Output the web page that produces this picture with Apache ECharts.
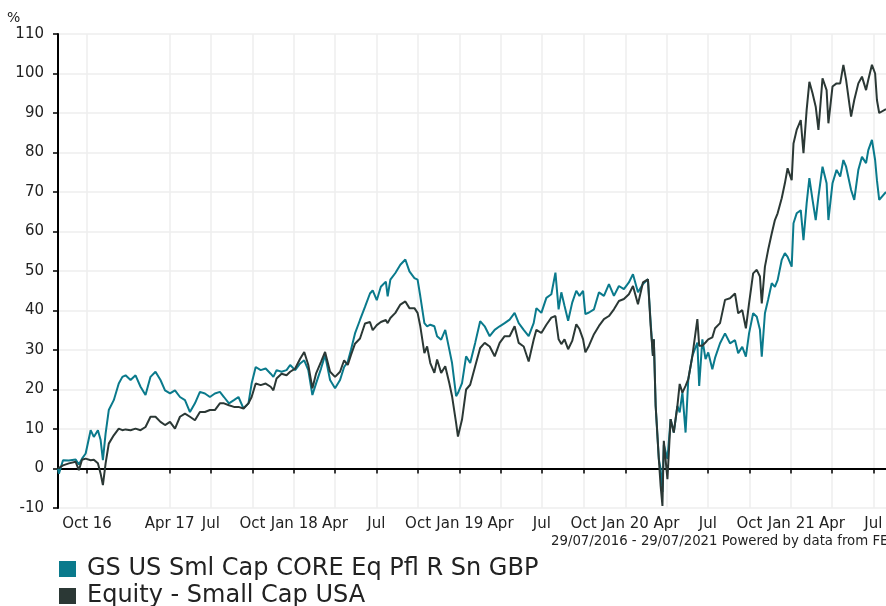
<!DOCTYPE html>
<html>
<head>
<meta charset="utf-8">
<script src="https://cdn.jsdelivr.net/npm/echarts@6/dist/echarts.min.js"></script>
<style>
  html, body { margin: 0; padding: 0; background: #fff; }
  #chart { width: 886px; height: 606px; }
</style>
</head>
<body>
<div id="chart"></div>
<script>
const dates = [
  '2016-07-29','2016-07-31','2016-08-09','2016-08-22','2016-09-06','2016-09-13','2016-09-20','2016-09-28',
  '2016-10-09','2016-10-16','2016-10-25','2016-10-31','2016-11-05','2016-11-11','2016-11-18','2016-11-29',
  '2016-12-10','2016-12-18','2016-12-25','2017-01-05','2017-01-16','2017-01-27','2017-02-07','2017-02-18',
  '2017-03-01','2017-03-12','2017-03-22','2017-04-02','2017-04-13','2017-04-24','2017-05-05','2017-05-16',
  '2017-05-27','2017-06-07','2017-06-18','2017-06-29','2017-07-10','2017-07-21','2017-07-30','2017-08-10',
  '2017-08-21','2017-08-31','2017-09-11','2017-09-22','2017-09-29','2017-10-08','2017-10-19','2017-10-30',
  '2017-11-10','2017-11-16','2017-11-23','2017-12-04','2017-12-15','2017-12-23','2018-01-03','2018-01-14',
  '2018-01-23','2018-02-01','2018-02-10','2018-02-18','2018-03-01','2018-03-10','2018-03-21','2018-04-01',
  '2018-04-12','2018-04-21','2018-04-29','2018-05-06','2018-05-15','2018-05-26','2018-06-06','2018-06-17',
  '2018-06-23','2018-07-02','2018-07-11','2018-07-22','2018-07-26','2018-08-01','2018-08-12','2018-08-23',
  '2018-09-03','2018-09-12','2018-09-23','2018-09-30','2018-10-06','2018-10-15','2018-10-21','2018-10-28',
  '2018-11-06','2018-11-12','2018-11-21','2018-11-30','2018-12-09','2018-12-15','2018-12-24','2018-12-28',
  '2019-01-06','2019-01-15','2019-01-24','2019-02-04','2019-02-15','2019-02-25','2019-03-08','2019-03-19',
  '2019-03-30','2019-04-10','2019-04-21','2019-05-02','2019-05-11','2019-05-22','2019-06-02','2019-06-13',
  '2019-06-19','2019-06-30','2019-07-11','2019-07-22','2019-07-31','2019-08-07','2019-08-13','2019-08-20',
  '2019-08-28','2019-09-06','2019-09-15','2019-09-22','2019-09-30','2019-10-05','2019-10-13','2019-10-24',
  '2019-11-04','2019-11-15','2019-11-26','2019-12-07','2019-12-18','2019-12-29','2020-01-09','2020-01-18',
  '2020-01-29','2020-02-09','2020-02-20','2020-02-26','2020-03-02','2020-03-04','2020-03-08','2020-03-15',
  '2020-03-19','2020-03-23','2020-03-26','2020-04-03','2020-04-10','2020-04-17','2020-04-25','2020-04-30',
  '2020-05-06','2020-05-13','2020-05-19','2020-05-28','2020-06-08','2020-06-12','2020-06-19','2020-06-26',
  '2020-07-02','2020-07-11','2020-07-17','2020-07-28','2020-08-08','2020-08-19','2020-08-30','2020-09-06',
  '2020-09-15','2020-09-23','2020-09-30','2020-10-09','2020-10-17','2020-10-24','2020-10-28','2020-11-04',
  '2020-11-11','2020-11-19','2020-11-26','2020-12-02','2020-12-11','2020-12-18','2020-12-24','2021-01-02',
  '2021-01-06','2021-01-13','2021-01-22','2021-01-28','2021-02-04','2021-02-10','2021-02-17','2021-02-24',
  '2021-03-02','2021-03-11','2021-03-20','2021-03-24','2021-04-02','2021-04-11','2021-04-19','2021-04-26',
  '2021-05-02','2021-05-13','2021-05-20','2021-05-29','2021-06-06','2021-06-15','2021-06-20','2021-06-28',
  '2021-07-05','2021-07-09','2021-07-14','2021-07-29'
];

// GS US Sml Cap CORE Eq Pfl R Sn GBP, cumulative % growth
const fundValues = [
  0, -1.3, 2.1, 2.0, 2.3, 1.0, 2.5, 3.8,
  9.7, 8.0, 9.7, 7.2, 2.1, 8.9, 14.8, 17.3,
  21.5, 23.2, 23.6, 22.4, 23.6, 20.7, 18.6, 23.2,
  24.5, 22.4, 19.8, 19.0, 19.8, 18.1, 17.3, 14.3,
  16.5, 19.4, 19.0, 18.1, 19.0, 19.4, 18.1, 16.5,
  17.3, 18.1, 15.2, 16.5, 21.5, 25.7, 24.9, 25.3,
  24.0, 23.2, 24.9, 24.5, 24.9, 26.2, 24.9, 26.6,
  27.4, 24.9, 18.6, 21.5, 25.3, 28.7, 22.4, 20.3,
  22.4, 25.7, 27.0, 30.0, 34.2, 37.6, 40.9, 44.3,
  45.1, 42.6, 46.0, 47.3, 43.6, 47.8, 49.5, 51.6,
  52.9, 49.9, 48.2, 47.8, 43.6, 36.8, 36.0, 36.4,
  36.0, 33.5, 32.6, 35.1, 30.1, 26.7, 18.3, 19.1,
  21.6, 28.4, 26.7, 31.8, 37.3, 36.0, 33.5, 35.1,
  36.0, 36.8, 37.7, 39.4, 36.8, 35.1, 33.5, 36.8,
  40.6, 39.4, 43.2, 44.1, 49.6, 40.3, 44.6, 41.2,
  37.4, 42.0, 45.0, 43.7, 45.0, 39.1, 39.5, 40.3,
  44.6, 43.7, 46.7, 43.7, 46.2, 45.4, 47.1, 49.2,
  44.6, 46.7, 47.9, 37.0, 28.5, 32.7, 15.9, 2.4,
  -0.2, -6.0, 6.0, 2.4, 12.5, 9.1, 15.9, 14.2,
  19.2, 9.1, 22.6, 28.5, 31.9, 20.9, 32.7, 27.7,
  29.4, 25.1, 28.0, 31.7, 34.2, 31.7, 32.5, 29.2,
  30.8, 28.3, 34.2, 39.3, 38.4, 35.1, 28.3, 39.3,
  42.7, 46.9, 46.0, 47.7, 52.8, 54.5, 53.6, 51.1,
  62.1, 64.6, 65.4, 57.8, 67.1, 73.5, 68.0, 62.9,
  68.8, 76.4, 72.2, 62.9, 72.2, 75.6, 73.9, 78.1,
  76.4, 70.5, 68.0, 75.6, 78.9, 77.3, 80.6, 83.2,
  78.1, 73.0, 68.0, 70.0
];

// Equity - Small Cap USA, cumulative % growth
const sectorValues = [
  0, -0.5, 0.8, 1.3, 1.7, -0.4, 2.2, 2.5,
  2.1, 2.2, 1.3, -1.3, -4.2, 1.3, 6.3, 8.4,
  10.1, 9.7, 9.9, 9.7, 10.1, 9.7, 10.5, 13.1,
  13.1, 11.8, 11.0, 11.8, 10.1, 13.1, 13.9, 13.1,
  12.2, 14.3, 14.3, 14.8, 14.8, 16.5, 16.5, 16.0,
  15.6, 15.6, 15.2, 16.5, 18.1, 21.5, 21.1, 21.5,
  20.7, 19.8, 22.8, 24.0, 23.6, 24.5, 25.3, 27.8,
  29.5, 26.2, 20.3, 24.0, 27.0, 29.5, 24.5, 23.2,
  24.5, 27.4, 26.2, 28.7, 31.6, 32.9, 36.7, 37.1,
  35.0, 36.3, 37.1, 37.6, 36.8, 38.1, 39.4, 41.5,
  42.3, 40.6, 40.6, 39.4, 36.0, 29.2, 30.9, 26.7,
  24.2, 27.6, 24.2, 25.9, 21.6, 18.3, 11.5, 8.1,
  12.4, 20.0, 21.2, 25.9, 30.5, 31.8, 30.9, 28.4,
  31.8, 33.5, 33.5, 36.0, 31.8, 30.9, 27.1, 32.6,
  35.1, 34.3, 36.4, 38.2, 38.6, 32.7, 31.5, 32.7,
  30.2, 32.3, 36.5, 35.3, 32.7, 29.4, 31.1, 34.0,
  36.1, 37.8, 38.6, 40.3, 42.4, 42.9, 44.1, 46.2,
  41.6, 47.1, 47.9, 36.1, 28.5, 32.7, 15.9, 2.4,
  -4.4, -9.5, 7.0, -2.7, 12.5, 9.1, 15.9, 21.4,
  19.2, 20.9, 22.6, 28.5, 37.8, 31.1, 31.1, 31.9,
  32.7, 33.2, 35.5, 36.8, 42.7, 43.1, 44.3, 39.3,
  40.1, 35.5, 41.8, 49.4, 50.3, 48.6, 41.8, 51.1,
  55.3, 59.5, 62.9, 64.6, 68.4, 72.2, 76.0, 73.0,
  82.3, 85.7, 88.2, 79.8, 90.8, 97.9, 95.0, 91.6,
  85.7, 98.8, 95.8, 87.4, 96.7, 97.5, 97.5, 102.2,
  98.4, 89.1, 93.3, 97.5, 99.2, 95.8, 98.4, 102.2,
  100.0, 93.3, 90.0, 91.0
];

const seriesNames = ['GS US Sml Cap CORE Eq Pfl R Sn GBP', 'Equity - Small Cap USA'];
const seriesColors = ['#0a7a8c', '#2b3835'];

// quarter ticks as drawn on the original (no Jan 17 tick)
const tickDates = [
  '2016-10-01','2017-04-01','2017-07-01','2017-10-01','2018-01-01','2018-04-01','2018-07-01',
  '2018-10-01','2019-01-01','2019-04-01','2019-07-01','2019-10-01','2020-01-01','2020-04-01',
  '2020-07-01','2020-10-01','2021-01-01','2021-04-01','2021-07-01'
];
const tickLabels = [
  'Oct 16','Apr 17','Jul','Oct','Jan 18','Apr','Jul',
  'Oct','Jan 19','Apr','Jul','Oct','Jan 20','Apr',
  'Jul','Oct','Jan 21','Apr','Jul'
];

const toTime = d => +echarts.time.parse(d);
const tickTimes = tickDates.map(toTime);
const labelByTime = {};
tickTimes.forEach((t, i) => { labelByTime[t] = tickLabels[i]; });

const font = 'Verdana, "DejaVu Sans", sans-serif';

const legendItem = (name, top) => ({
  orient: 'vertical',
  left: 59,
  top: top,
  padding: 0,
  itemWidth: 17,
  itemHeight: 16,
  icon: 'rect',
  textStyle: { fontSize: 24, color: '#222', fontFamily: font, padding: [0, 0, 0, 6] },
  data: [name]
});

const chart = echarts.init(document.getElementById('chart'));

const option = {
  animation: false,
  backgroundColor: '#fff',
  textStyle: { fontFamily: font },
  grid: {
    left: 58,
    top: 34,
    width: 834,
    height: 474
  },
  legend: [
    legendItem(seriesNames[0], 557),
    legendItem(seriesNames[1], 584)
  ],
  graphic: [
    {
      type: 'text',
      left: 7,
      top: 11,
      style: { text: '%', fontSize: 14, fill: '#222', fontFamily: font }
    },
    {
      type: 'text',
      left: 551,
      top: 535,
      style: { text: '29/07/2016 - 29/07/2021 Powered by data from FE', fontSize: 13.3, fill: '#222', fontFamily: font }
    }
  ],
  xAxis: {
    type: 'value',
    min: toTime(dates[0]),
    max: toTime(dates[dates.length - 1]),
    axisLine: { lineStyle: { color: '#000', width: 2 } },
    axisTick: {
      customValues: tickTimes,
      length: 5,
      lineStyle: { color: '#000', width: 1.5 }
    },
    axisLabel: {
      customValues: tickTimes,
      margin: 9,
      fontSize: 15,
      color: '#222',
      fontFamily: font,
      formatter: v => labelByTime[v] || ''
    },
    splitLine: { show: true, lineStyle: { color: '#eeeeee', width: 1.5 } }
  },
  yAxis: {
    type: 'value',
    min: -10,
    max: 110,
    interval: 10,
    axisLine: { show: true, lineStyle: { color: '#000', width: 2 } },
    axisTick: { show: true, length: 5, lineStyle: { color: '#000', width: 1.5 } },
    axisLabel: { margin: 14, fontSize: 15, color: '#222', fontFamily: font },
    splitLine: { lineStyle: { color: '#eeeeee', width: 1.5 } }
  },
  series: [
    {
      name: seriesNames[0],
      type: 'line',
      data: dates.map((d, i) => [toTime(d), fundValues[i]]),
      showSymbol: false,
      color: seriesColors[0],
      lineStyle: { width: 2 }
    },
    {
      name: seriesNames[1],
      type: 'line',
      data: dates.map((d, i) => [toTime(d), sectorValues[i]]),
      showSymbol: false,
      color: seriesColors[1],
      lineStyle: { width: 2 }
    }
  ]
};

chart.setOption(option);
</script>
</body>
</html>
